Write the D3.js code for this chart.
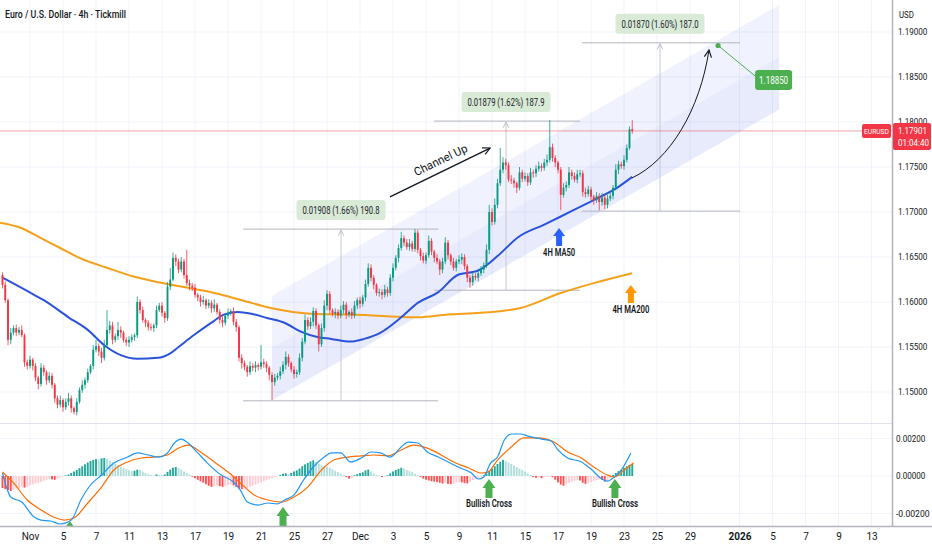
<!DOCTYPE html>
<html>
<head>
<meta charset="utf-8">
<title>Euro / U.S. Dollar 4h</title>
<script src="https://cdn.jsdelivr.net/npm/d3@7/dist/d3.min.js"></script>
<style>
  body { margin: 0; background: #fff; }
  svg { display: block; font-family: Roboto, "Liberation Sans", Arial, sans-serif; }
</style>
</head>
<body>
<div id="chart"></div>
<script>
// ---- data ----
// bar index 0 = first 4h bar of Nov 3, 6 bars per trading day
// prices in pips (11619 = 1.1619)
const firstBar = -10;
const firstOpen = 11630;
const closes = [
  11619, 11602, 11558, 11566, 11571, 11566, 11569, 11563, 11533, 11529,
  11536, 11529, 11516, 11509, 11527, 11522, 11513, 11518, 11508, 11493,
  11486, 11491, 11483, 11489, 11493, 11482, 11478, 11489, 11502, 11508,
  11513, 11522, 11529, 11547, 11551, 11545, 11538, 11552, 11569, 11574,
  11558, 11562, 11569, 11566, 11558, 11555, 11558, 11561, 11563, 11600,
  11591, 11580, 11577, 11572, 11571, 11574, 11591, 11596, 11588, 11582,
  11617, 11625, 11649, 11645, 11636, 11645, 11630, 11621, 11618, 11616,
  11608, 11605, 11600, 11602, 11596, 11599, 11593, 11597, 11589, 11580,
  11577, 11585, 11588, 11590, 11578, 11572, 11538, 11532, 11528, 11522,
  11529, 11527, 11530, 11528, 11533, 11531, 11527, 11519, 11511, 11516,
  11518, 11523, 11530, 11539, 11532, 11525, 11520, 11522, 11538, 11556,
  11580, 11573, 11578, 11590, 11574, 11553, 11571, 11596, 11609, 11591,
  11587, 11589, 11585, 11591, 11597, 11586, 11589, 11585, 11596, 11602,
  11598, 11605, 11620, 11638, 11627, 11619, 11610, 11611, 11608, 11614,
  11610, 11627, 11638, 11649, 11660, 11671, 11666, 11661, 11665, 11659,
  11677, 11658, 11651, 11646, 11652, 11668, 11656, 11649, 11645, 11636,
  11645, 11666, 11652, 11645, 11638, 11645, 11647, 11650, 11640, 11627,
  11622, 11629, 11627, 11632, 11636, 11641, 11658, 11700, 11689, 11708,
  11732, 11747, 11755, 11752, 11736, 11735, 11732, 11727, 11744, 11737,
  11740, 11733, 11744, 11743, 11748, 11751, 11749, 11755, 11758, 11772,
  11760, 11755, 11747, 11719, 11727, 11730, 11744, 11740, 11736, 11742,
  11743, 11722, 11720, 11725, 11717, 11713, 11718, 11711, 11716, 11708,
  11715, 11718, 11727, 11747, 11753, 11751, 11758, 11771, 11792, 11790
];
const upWick = [
  3, 4, 2, 5, 3, 4, 3, 5, 2, 3,
  4, 2, 3, 2, 5, 3, 2, 4, 3, 2,
  3, 5, 2, 4, 6, 3, 2, 4, 3, 5,
  3, 4, 2, 5, 7, 3, 4, 6, 22, 5,
  4, 3, 9, 4, 2, 3, 4, 3, 2, 6,
  3, 4, 2, 3, 4, 2, 5, 3, 4, 2,
  5, 13, 6, 4, 3, 5, 3, 28, 4, 3,
  4, 2, 3, 5, 2, 4, 3, 6, 2, 3,
  4, 3, 5, 2, 4, 3, 2, 4, 3, 2,
  5, 3, 4, 2, 19, 4, 3, 2, 3, 4,
  3, 5, 4, 6, 3, 2, 4, 3, 5, 4,
  6, 3, 5, 4, 3, 2, 5, 6, 4, 3,
  2, 4, 3, 5, 4, 3, 2, 4, 5, 3,
  4, 3, 5, 5, 4, 3, 2, 4, 3, 5,
  3, 4, 5, 3, 4, 7, 3, 4, 5, 3,
  4, 3, 2, 4, 3, 6, 3, 2, 4, 3,
  4, 6, 3, 2, 4, 3, 5, 4, 3, 2,
  3, 4, 3, 5, 4, 3, 6, 8, 4, 7,
  5, 24, 6, 4, 3, 5, 3, 2, 6, 3,
  4, 3, 5, 3, 4, 5, 3, 4, 6, 30,
  4, 3, 2, 3, 5, 4, 6, 3, 4, 5,
  4, 3, 5, 4, 3, 2, 4, 3, 5, 3,
  4, 5, 3, 6, 4, 3, 5, 4, 3, 10
];
const downWick = [
  4, 3, 6, 5, 3, 4, 3, 2, 5, 4,
  3, 5, 4, 6, 3, 4, 5, 3, 4, 5,
  4, 3, 5, 3, 4, 5, 3, 4, 2, 3,
  4, 3, 2, 4, 3, 5, 6, 3, 2, 4,
  5, 3, 4, 6, 3, 4, 5, 3, 4, 3,
  4, 3, 5, 4, 3, 4, 3, 2, 4, 5,
  3, 4, 2, 5, 4, 3, 4, 3, 5, 4,
  3, 4, 5, 3, 4, 3, 5, 4, 3, 4,
  5, 3, 4, 3, 4, 5, 4, 6, 4, 5,
  3, 4, 5, 4, 3, 4, 5, 6, 20, 4,
  3, 4, 3, 5, 4, 3, 5, 4, 3, 4,
  3, 4, 3, 5, 4, 8, 3, 4, 5, 4,
  3, 5, 4, 3, 4, 5, 3, 4, 3, 4,
  5, 3, 4, 3, 4, 5, 3, 4, 5, 3,
  4, 3, 4, 3, 5, 3, 4, 3, 4, 3,
  3, 4, 5, 3, 4, 3, 4, 5, 3, 6,
  4, 3, 5, 4, 3, 4, 3, 5, 4, 5,
  6, 4, 3, 4, 3, 4, 3, 5, 4, 3,
  4, 3, 4, 5, 3, 4, 5, 6, 3, 4,
  3, 4, 3, 5, 4, 3, 4, 3, 4, 3,
  4, 5, 4, 17, 3, 4, 3, 4, 3, 4,
  3, 5, 4, 3, 4, 5, 3, 9, 4, 5,
  4, 3, 4, 3, 5, 3, 4, 3, 2, 3
];
const lastPrice = 1.17901;

// moving averages, sampled along the bar axis (pips)
const ma50Bars = [-10, 1.5, 5, 14, 21, 27, 33, 39, 46.5, 51, 54, 59.5, 66, 70.5, 75.5, 80.5, 86.5, 92.5, 98.5, 104.5, 109.5, 116.5, 121.5, 127.5, 135, 141, 148.5, 155.5, 163, 170, 177.5, 187, 193, 201.5, 207.5, 214, 219];
const ma50 = [11627, 11608, 11602, 11583, 11569, 11552, 11541, 11537, 11538, 11543, 11550, 11563, 11577, 11586, 11589, 11587, 11582, 11577, 11567, 11561, 11559, 11556, 11559, 11566, 11583, 11599, 11611, 11630, 11635, 11651, 11672, 11686, 11695, 11708, 11717, 11728, 11739];
const ma200Bars = [-11, -3, 4, 11, 18, 28, 38, 48, 57, 67, 77, 88, 102, 117, 131, 141, 152, 164, 178, 193, 205, 219];
const ma200 = [11688, 11682, 11671, 11660, 11649, 11638, 11628, 11621, 11616, 11610, 11602, 11593, 11587, 11586, 11584, 11583, 11586, 11588, 11593, 11610, 11621, 11632];

// MACD (values in 1e-5)
const macdBars = [-10, -7, -3, 1.5, 4, 7.5, 11, 15, 18.5, 22, 26, 30.5, 35.5, 39, 43, 46.5, 50, 52.5, 55, 57.5, 61, 64.5, 69.5, 74, 76.5, 79, 83, 86.5, 90, 92.5, 96, 99.5, 103, 107, 109.5, 113, 116.5, 120.5, 124, 127.5, 131, 135, 137.5, 141, 144.5, 148.5, 152, 156.5, 160.5, 163, 165, 167.5, 170, 172.5, 175, 178.5, 181, 186, 189.5, 192, 195.5, 200.5, 204, 207.5, 210, 212.5, 215, 218.5];
const macdLine = [16, -112, -139, -219, -235, -240, -256, -235, -128, -48, 5, 69, 101, 123, 112, 101, 123, 176, 197, 176, 123, 69, 5, -32, -75, -139, -155, -144, -149, -128, -101, -21, 48, 101, 123, 123, 75, 96, 128, 123, 101, 155, 181, 176, 128, 101, 75, 43, 16, -16, -5, 69, 101, 192, 224, 224, 213, 197, 187, 139, 96, 75, 37, -11, -27, -5, 32, 123];
const signalBars = [-10, -6, -1, 4, 8.5, 12.5, 16, 21, 26, 30.5, 35.5, 40.5, 45, 50, 54, 57.5, 62, 67, 72, 76.5, 81.5, 86.5, 91.5, 96, 101, 106, 110.5, 115.5, 120.5, 125, 130, 135, 139.5, 144.5, 149.5, 154, 159.5, 164, 166.5, 170, 175, 179.5, 184.5, 190.5, 195.5, 200.5, 205, 210, 212.5, 216, 219.5];
const signalLine = [21, -37, -128, -181, -219, -235, -224, -144, -59, 32, 75, 96, 101, 112, 149, 165, 128, 75, 21, -37, -101, -128, -139, -112, -59, 32, 85, 101, 107, 112, 107, 139, 165, 149, 112, 75, 43, 16, 21, 85, 155, 203, 203, 181, 128, 96, 48, 5, -5, 32, 69];
const histogram = [
  -64, -70, -75, -80, -72, -68, -64, -60, -62, -58,
  -50, -45, -40, -37, -32, -26, -21, -16, -18, -20,
  -14, -8, -4, 3, 8, 16, 24, 32, 42, 52,
  62, 72, 80, 86, 90, 88, 94, 96, 92, 82,
  74, 66, 58, 50, 42, 36, 30, 26, 28, 34,
  32, 24, 16, 10, 6, 4, 8, 6, 4, 8,
  22, 34, 44, 48, 42, 34, 24, 16, 8, -4,
  -12, -20, -28, -36, -44, -52, -58, -56, -50, -54,
  -58, -52, -48, -44, -50, -58, -66, -70, -68, -64,
  -58, -52, -46, -40, -34, -28, -22, -16, -12, -6,
  -2, 6, 12, 14, 10, 16, 24, 30, 40, 52,
  62, 70, 78, 84, 76, 66, 58, 54, 50, 44,
  36, 28, 20, 12, 4, -6, -14, -10, 4, 10,
  16, 20, 30, 34, 24, 14, 6, 2, -6, -4,
  4, 14, 24, 32, 38, 44, 40, 32, 26, 20,
  12, 4, -6, -14, -20, -24, -28, -30, -32, -36,
  -40, -38, -42, -44, -40, -34, -32, -34, -38, -40,
  -30, -22, -16, -10, -4, 4, 14, 28, 40, 52,
  64, 76, 86, 80, 72, 64, 56, 48, 40, 32,
  24, 14, 6, -6, -10, -8, -12, -6, -4, -2,
  -6, -20, -34, -46, -52, -44, -36, -30, -26, -22,
  -24, -36, -42, -40, -34, -28, -22, -18, -20, -30,
  -24, -12, 6, 16, 26, 34, 44, 52, 60, 64
];

// axes
const dayTicks = [0, 2, 4, 6, 8, 10, 12, 14, 16, 18, 20, 22, 24, 26, 28, 30, 32, 34, 36, 38, 40, 43, 45, 47, 49, 51];
const dayLabels = ["Nov", "5", "7", "11", "13", "17", "19", "21", "25", "27", "Dec", "3", "5", "9", "11", "15", "17", "19", "23", "25", "29", "2026", "5", "7", "9", "13"];
const priceTicks = [1.15, 1.155, 1.16, 1.165, 1.17, 1.175, 1.18, 1.185, 1.19];
const macdTicks = [-0.002, 0, 0.002];

// drawings
const channelBars = [88, 272.4];
const channelUpper = [1.1607, 1.1930];
const channelLower = [1.1491, 1.1814];
const measureFrom = [77.5, 147, 200.7];
const measureTo = [148.4, 200, 258.2];
const measureAt = [113.1, 173.1, 229.1];
const measureLow = [1.14902, 1.16131, 1.17010];
const measureHigh = [1.16810, 1.18010, 1.18880];
const measureText = ["0.01908 (1.66%) 190.8", "0.01879 (1.62%) 187.9", "0.01870 (1.60%) 187.0"];
const targetBar = 250.2, targetPrice = 1.1885;
const targetLabelBar = 270.4, targetLabelPrice = 1.18467;
const trendArrowBars = [130.9, 167.3], trendArrowPrices = [1.17167, 1.17711];
const pathBars = [218.9, 232.7, 243.6, 246.9], pathPrices = [1.17378, 1.17578, 1.18133, 1.1880];
const maArrowBars = [192.4, 218.5], maArrowPrices = [1.16822, 1.16189];
const maArrowText = ["4H MA50", "4H MA200"];
const crossBars = [14.5, 92, 166.9, 212.7], crossValues = [-0.0024, -0.00165, -0.00016, -0.00016];

// ---- chart ----
const W = 932, H = 550, plotW = 892;
const svg = d3.select("#chart").append("svg").attr("width", W).attr("height", H);

const x = d3.scaleLinear().domain([0, 312]).range([30, 888]);
const yP = d3.scaleLinear().domain([1.15, 1.19]).range([392, 32]);
const yM = d3.scaleLinear().domain([-0.002, 0.002]).range([513.5, 438.5]);

const defs = svg.append("defs");
defs.append("clipPath").attr("id", "clipP").append("rect").attr("x", 0).attr("y", 0).attr("width", plotW).attr("height", 423);
defs.append("clipPath").attr("id", "clipM").append("rect").attr("x", 0).attr("y", 424).attr("width", plotW).attr("height", 102);
defs.append("marker").attr("id", "openHead").attr("viewBox", "0 0 10 10").attr("refX", 9).attr("refY", 5)
  .attr("markerWidth", 9).attr("markerHeight", 9).attr("markerUnits", "userSpaceOnUse").attr("orient", "auto")
  .append("path").attr("d", "M1,1 L9,5 L1,9").attr("fill", "none").attr("stroke", "#131722").attr("stroke-width", 1.3);
defs.append("marker").attr("id", "grayHead").attr("viewBox", "0 0 10 10").attr("refX", 9).attr("refY", 5)
  .attr("markerWidth", 7).attr("markerHeight", 7).attr("markerUnits", "userSpaceOnUse").attr("orient", "auto")
  .append("path").attr("d", "M1,1 L9,5 L1,9").attr("fill", "none").attr("stroke", "#b2b5be").attr("stroke-width", 1.2);

// grid
const grid = svg.append("g");
grid.selectAll("line.v").data(dayTicks).join("line").attr("class", "v")
  .attr("x1", d => x(d * 6)).attr("x2", d => x(d * 6)).attr("y1", 0).attr("y2", 526)
  .attr("stroke", "#f0f3fa");
grid.selectAll("line.h").data(priceTicks).join("line").attr("class", "h")
  .attr("x1", 0).attr("x2", plotW).attr("y1", d => yP(d)).attr("y2", d => yP(d))
  .attr("stroke", "#f0f3fa");
grid.selectAll("line.m").data(macdTicks).join("line").attr("class", "m")
  .attr("x1", 0).attr("x2", plotW).attr("y1", d => yM(d)).attr("y2", d => yM(d))
  .attr("stroke", "#f0f3fa");

// ---- price pane ----
const pane = svg.append("g").attr("clip-path", "url(#clipP)");

// channel (two tones)
const cu = i => channelUpper[0] + (channelUpper[1] - channelUpper[0]) * (i - channelBars[0]) / (channelBars[1] - channelBars[0]);
const cl = i => channelLower[0] + (channelLower[1] - channelLower[0]) * (i - channelBars[0]) / (channelBars[1] - channelBars[0]);
const cm = i => (cu(i) + cl(i)) / 2;
const b0 = channelBars[0], b1 = channelBars[1];
pane.append("path")
  .attr("d", `M${x(b0)},${yP(cu(b0))}L${x(b1)},${yP(cu(b1))}L${x(b1)},${yP(cm(b1))}L${x(b0)},${yP(cm(b0))}Z`)
  .attr("fill", "rgba(90,110,235,0.09)");
pane.append("path")
  .attr("d", `M${x(b0)},${yP(cm(b0))}L${x(b1)},${yP(cm(b1))}L${x(b1)},${yP(cl(b1))}L${x(b0)},${yP(cl(b0))}Z`)
  .attr("fill", "rgba(90,110,235,0.14)");

// measurement tools
measureText.forEach((t, k) => {
  const g = pane.append("g");
  const xa = x(measureFrom[k]), xb = x(measureTo[k]), xv = x(measureAt[k]);
  const yl = yP(measureLow[k]), yh = yP(measureHigh[k]);
  g.append("line").attr("x1", xa).attr("x2", xb).attr("y1", yh).attr("y2", yh).attr("stroke", "#b2b5be");
  g.append("line").attr("x1", xa).attr("x2", xb).attr("y1", yl).attr("y2", yl).attr("stroke", "#b2b5be");
  g.append("line").attr("x1", xv).attr("x2", xv).attr("y1", yl).attr("y2", yh + 1)
    .attr("stroke", "#c8cad0").attr("marker-end", "url(#grayHead)");
  g.append("rect").attr("x", xv - 44.5).attr("y", yh - 29).attr("width", 89).attr("height", 20).attr("rx", 3)
    .attr("fill", "#d9ead6");
  g.append("text").attr("x", xv).attr("y", yh - 15).attr("text-anchor", "middle")
    .attr("font-size", 10.5).attr("fill", "#1e222d")
    .attr("textLength", 77).attr("lengthAdjust", "spacingAndGlyphs").text(t);
});

// moving averages
const line = d3.line().curve(d3.curveMonotoneX);
pane.append("path").attr("d", line(ma200Bars.map((b, k) => [x(b), yP(ma200[k] / 1e4)])))
  .attr("fill", "none").attr("stroke", "#f5a01a").attr("stroke-width", 2);
pane.append("path").attr("d", line(ma50Bars.map((b, k) => [x(b), yP(ma50[k] / 1e4)])))
  .attr("fill", "none").attr("stroke", "#2b52dd").attr("stroke-width", 2);

// price line
pane.append("line").attr("x1", 0).attr("x2", plotW).attr("y1", yP(lastPrice)).attr("y2", yP(lastPrice))
  .attr("stroke", "#f23645").attr("stroke-opacity", 0.45);

// candles
const candles = closes.map((c, k) => {
  const o = k === 0 ? firstOpen : closes[k - 1];
  return {
    i: firstBar + k, o: o / 1e4, c: c / 1e4,
    h: (Math.max(o, c) + upWick[k]) / 1e4, l: (Math.min(o, c) - downWick[k]) / 1e4
  };
});
const cg = pane.append("g");
cg.selectAll("line").data(candles).join("line")
  .attr("x1", d => x(d.i)).attr("x2", d => x(d.i))
  .attr("y1", d => yP(d.h)).attr("y2", d => yP(d.l))
  .attr("stroke", d => d.c >= d.o ? "#089981" : "#f23645").attr("stroke-width", 0.8);
cg.selectAll("rect").data(candles).join("rect")
  .attr("x", d => x(d.i) - 0.95).attr("width", 1.9)
  .attr("y", d => yP(Math.max(d.o, d.c)))
  .attr("height", d => Math.max(1, Math.abs(yP(d.o) - yP(d.c))))
  .attr("fill", d => d.c >= d.o ? "#089981" : "#f23645");

// "Channel Up" arrow + label
const ta = [x(trendArrowBars[0]), yP(trendArrowPrices[0])], tb = [x(trendArrowBars[1]), yP(trendArrowPrices[1])];
pane.append("line").attr("x1", ta[0]).attr("y1", ta[1]).attr("x2", tb[0]).attr("y2", tb[1])
  .attr("stroke", "#131722").attr("stroke-width", 1.4).attr("marker-end", "url(#openHead)");
{
  const dx = tb[0] - ta[0], dy = tb[1] - ta[1], len = Math.hypot(dx, dy);
  const ux = dx / len, uy = dy / len;
  const mx = (ta[0] + tb[0]) / 2 + ux * 6 + uy * 11, my = (ta[1] + tb[1]) / 2 + uy * 6 - ux * 11;
  const ang = Math.atan2(dy, dx) * 180 / Math.PI;
  pane.append("text").attr("transform", `translate(${mx},${my}) rotate(${ang})`)
    .attr("text-anchor", "middle").attr("dy", "0.35em").attr("font-size", 11.5).attr("fill", "#131722")
    .attr("textLength", 58).attr("lengthAdjust", "spacingAndGlyphs").text("Channel Up");
}

// projected path curve
const pp = pathBars.map((b, k) => [x(b), yP(pathPrices[k])]);
pane.append("path").attr("d", `M${pp[0]}C${pp[1]} ${pp[2]} ${pp[3]}`)
  .attr("fill", "none").attr("stroke", "#131722").attr("stroke-width", 1).attr("marker-end", "url(#openHead)");

// target
{
  const tx = x(targetBar), ty = yP(targetPrice);
  const lx = x(targetLabelBar), ly = yP(targetLabelPrice);
  pane.append("line").attr("x1", tx).attr("y1", ty).attr("x2", lx - 18.5).attr("y2", ly - 4)
    .attr("stroke", "#4caf50").attr("stroke-width", 1);
  pane.append("circle").attr("cx", tx).attr("cy", ty).attr("r", 2.6).attr("fill", "#4caf50");
  pane.append("rect").attr("x", lx - 18.5).attr("y", ly - 10).attr("width", 37).attr("height", 20).attr("rx", 3)
    .attr("fill", "#4caf50");
  pane.append("text").attr("x", lx).attr("y", ly + 3.8).attr("text-anchor", "middle").attr("font-size", 10)
    .attr("fill", "#fff").attr("textLength", 29).attr("lengthAdjust", "spacingAndGlyphs").text("1.18850");
}

// block arrow helper: tip at (px,py), pointing up
function blockArrow(g, px, py, color, hw, hh, sw, len) {
  g.append("path")
    .attr("d", `M${px},${py}L${px + hw},${py + hh}L${px + sw},${py + hh}L${px + sw},${py + len}L${px - sw},${py + len}L${px - sw},${py + hh}L${px - hw},${py + hh}Z`)
    .attr("fill", color);
}
const maColors = ["#2962ff", "#ff9800"];
maArrowBars.forEach((b, k) => {
  const px = x(b), py = yP(maArrowPrices[k]);
  blockArrow(pane, px, py, maColors[k], 6, 8, 3, 18);
  pane.append("text").attr("x", px).attr("y", py + 28).attr("text-anchor", "middle")
    .attr("font-size", 10.5).attr("font-weight", 600).attr("fill", "#131722")
    .attr("textLength", k === 0 ? 32 : 37).attr("lengthAdjust", "spacingAndGlyphs").text(maArrowText[k]);
});

// ---- MACD pane ----
const mp = svg.append("g").attr("clip-path", "url(#clipM)");
mp.selectAll("rect").data(histogram).join("rect")
  .attr("x", (d, k) => x(firstBar + k) - 0.95).attr("width", 1.9)
  .attr("y", d => yM(Math.max(0, d / 1e5)))
  .attr("height", d => Math.abs(yM(d / 1e5) - yM(0)))
  .attr("fill", (d, k) => {
    const prev = k === 0 ? d : histogram[k - 1];
    if (d >= 0) return d >= prev ? "#26a69a" : "#b2dfdb";
    return d <= prev ? "#ff5252" : "#ffcdd2";
  });
mp.append("path").attr("d", line(signalBars.map((b, k) => [x(b), yM(signalLine[k] / 1e5)])))
  .attr("fill", "none").attr("stroke", "#ff6d00").attr("stroke-width", 1.2);
mp.append("path").attr("d", line(macdBars.map((b, k) => [x(b), yM(macdLine[k] / 1e5)])))
  .attr("fill", "none").attr("stroke", "#2196f3").attr("stroke-width", 1.2);

crossBars.forEach((b, k) => {
  const px = x(b), py = yM(crossValues[k]);
  blockArrow(mp, px, py, "#4caf50", 6.5, 9, 3.5, 19);
  if (k >= 2) {
    mp.append("text").attr("x", px).attr("y", py + 28).attr("text-anchor", "middle")
      .attr("font-size", 10.5).attr("font-weight", 600).attr("fill", "#131722")
      .attr("textLength", 46).attr("lengthAdjust", "spacingAndGlyphs").text("Bullish Cross");
  }
});

// ---- frame & axes ----
svg.append("line").attr("x1", 0).attr("x2", plotW).attr("y1", 423.5).attr("y2", 423.5).attr("stroke", "#e0e3eb");
svg.append("line").attr("x1", 0).attr("x2", W).attr("y1", 526.5).attr("y2", 526.5).attr("stroke", "#b2b5be").attr("stroke-width", 1.5);
svg.append("line").attr("x1", plotW + 0.5).attr("x2", plotW + 0.5).attr("y1", 0).attr("y2", 526).attr("stroke", "#b2b5be").attr("stroke-width", 1.5);

const fmt = d3.format(".5f");
const axP = svg.append("g").attr("transform", `translate(${plotW},0)`)
  .call(d3.axisRight(yP).tickValues(priceTicks).tickFormat(fmt).tickSize(0).tickPadding(6));
const axM = svg.append("g").attr("transform", `translate(${plotW},0)`)
  .call(d3.axisRight(yM).tickValues(macdTicks).tickFormat(d => fmt(d).replace("−", "-")).tickSize(0).tickPadding(4));
const axX = svg.append("g").attr("transform", "translate(0,526)")
  .call(d3.axisBottom(x).tickValues(dayTicks.map(d => d * 6)).tickFormat((d, k) => dayLabels[k]).tickSize(0).tickPadding(7));
[axP, axM, axX].forEach(a => {
  a.select(".domain").remove();
  a.selectAll("text").attr("font-size", 10).attr("fill", "#131722").attr("font-family", "Roboto, 'Liberation Sans', sans-serif");
});
[axP, axM].forEach(a => a.selectAll("text").attr("font-size", 8.8)
  .attr("textLength", function () { return this.textContent.length * 4.2; })
  .attr("lengthAdjust", "spacingAndGlyphs"));
axX.selectAll("text").filter((d, k) => dayLabels[k] === "2026").attr("font-weight", 700);

svg.append("text").attr("x", 899).attr("y", 18).attr("font-size", 9.5).attr("fill", "#131722")
  .attr("textLength", 15).attr("lengthAdjust", "spacingAndGlyphs").text("USD");

// last price labels
{
  const py = yP(lastPrice);
  svg.append("rect").attr("x", 862).attr("y", py - 7).attr("width", 29).attr("height", 14).attr("rx", 2).attr("fill", "#f23645");
  svg.append("text").attr("x", 876.5).attr("y", py + 3.5).attr("text-anchor", "middle").attr("font-size", 8)
    .attr("fill", "#fff").attr("textLength", 25).attr("lengthAdjust", "spacingAndGlyphs").text("EURUSD");
  svg.append("rect").attr("x", plotW + 1).attr("y", py - 8).attr("width", W - plotW - 2).attr("height", 27).attr("rx", 2).attr("fill", "#f23645");
  svg.append("text").attr("x", 898).attr("y", py + 3.5).attr("font-size", 9).attr("fill", "#fff")
    .attr("textLength", 29).attr("lengthAdjust", "spacingAndGlyphs").text("1.17901");
  svg.append("text").attr("x", 898).attr("y", py + 15).attr("font-size", 8.5).attr("fill", "#fff")
    .attr("textLength", 31).attr("lengthAdjust", "spacingAndGlyphs").text("01:04:40");
}

// title
svg.append("text").attr("x", 5).attr("y", 18).attr("font-size", 11.5).attr("font-weight", 500)
  .attr("fill", "#131722").attr("textLength", 121).attr("lengthAdjust", "spacingAndGlyphs")
  .text("Euro / U.S. Dollar · 4h · Tickmill");
</script>
</body>
</html>
